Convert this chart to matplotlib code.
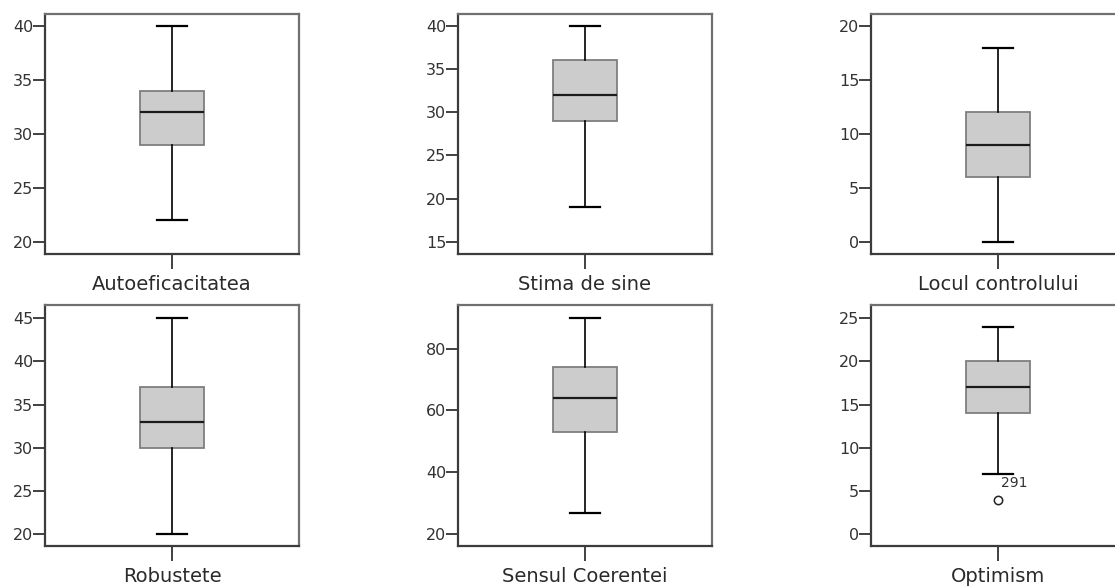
import matplotlib
matplotlib.use("Agg")
import matplotlib.pyplot as plt

# values
names = ["Autoeficacitatea", "Stima de sine", "Locul controlului",
         "Robustete", "Sensul Coerentei", "Optimism"]
whislo = [22, 19, 0, 20, 27, 7]
q1 = [29, 29, 6, 30, 53, 14]
med = [32, 32, 9, 33, 64, 17]
q3 = [34, 36, 12, 37, 74, 20]
whishi = [40, 40, 18, 45, 90, 24]
fliers = [[], [], [], [], [], [4]]
flier_ids = [[], [], [], [], [], ["291"]]

yticks = [[20, 25, 30, 35, 40], [15, 20, 25, 30, 35, 40], [0, 5, 10, 15, 20],
          [20, 25, 30, 35, 40, 45], [20, 40, 60, 80], [0, 5, 10, 15, 20, 25]]
ylims = [(18.9, 41.1), (13.6, 41.35), (-1.1, 21.1),
         (18.65, 46.5), (16.2, 94.1), (-1.35, 26.5)]

plt.rcParams["font.family"] = "DejaVu Sans"

W, H = 1115, 587
fig = plt.figure(figsize=(W / 100, H / 100), dpi=100)

lefts = [45, 458, 871]
rows = [(333, 240), (41, 241)]

for i in range(6):
    r, c = divmod(i, 3)
    bottom, height = rows[r]
    ax = fig.add_axes([lefts[c] / W, bottom / H, 254 / W, height / H])
    stats = [dict(med=med[i], q1=q1[i], q3=q3[i], whislo=whislo[i],
                  whishi=whishi[i], fliers=fliers[i], label=names[i])]
    ax.bxp(stats, positions=[0], widths=0.504, capwidths=0.236,
           patch_artist=True,
           boxprops=dict(facecolor="#cccccc", edgecolor="#7f7f7f", linewidth=1.3),
           medianprops=dict(color="#1a1a1a", linewidth=1.6),
           whiskerprops=dict(color="black", linewidth=1.2),
           capprops=dict(color="black", linewidth=1.6),
           flierprops=dict(marker="o", markerfacecolor="white",
                           markeredgecolor="#222222", markersize=6,
                           markeredgewidth=1.1))
    for v, lab in zip(fliers[i], flier_ids[i]):
        ax.annotate(lab, (0, v), xytext=(2, 12), textcoords="offset points",
                    ha="left", va="center", fontsize=10, color="#333333")
    ax.set_xlim(-1, 1)
    ax.set_ylim(*ylims[i])
    ax.set_yticks(yticks[i])
    ax.set_xticks([0])
    ax.set_xticklabels([names[i]])
    ax.tick_params(axis="y", direction="out", length=8.5, width=1.3,
                   color="#333333", pad=0, labelsize=11.5, labelcolor="#333333")
    ax.tick_params(axis="x", direction="out", length=11, width=1.3,
                   color="#333333", pad=4, labelsize=14, labelcolor="#2a2a2a")
    for s in ["left", "bottom"]:
        ax.spines[s].set_color("#3c3c3c")
        ax.spines[s].set_linewidth(1.6)
    for s in ["top", "right"]:
        ax.spines[s].set_color("#707070")
        ax.spines[s].set_linewidth(1.6)

fig.savefig("out.png", dpi=100)
